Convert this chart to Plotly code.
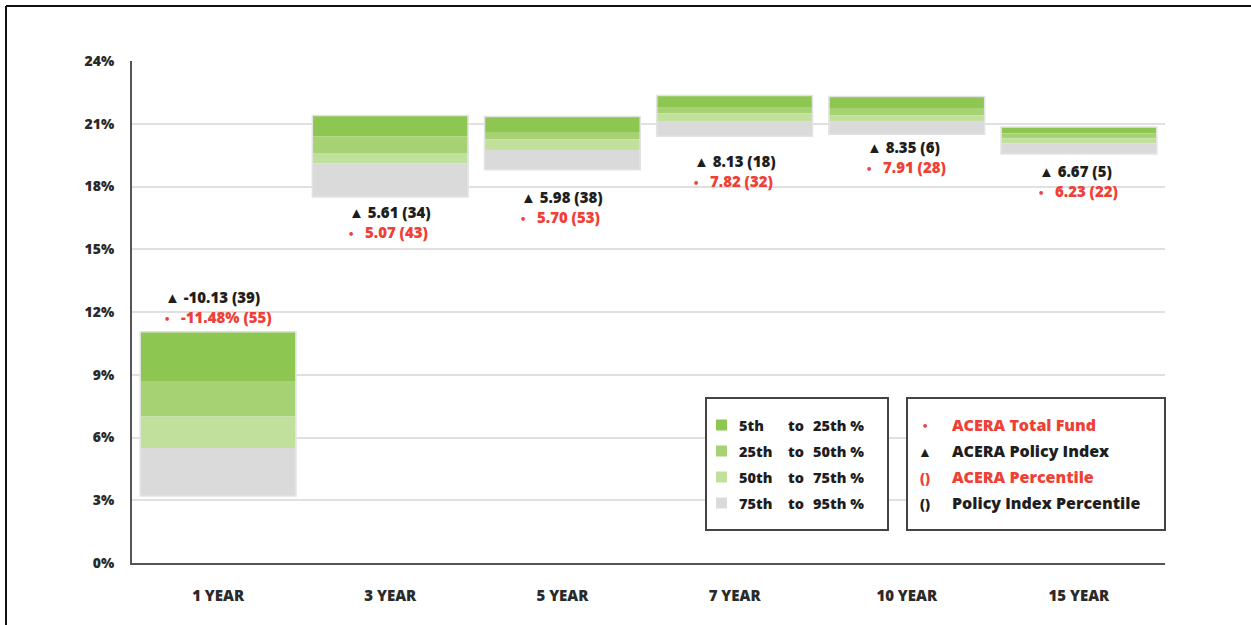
import plotly.graph_objects as go

# Peer-universe return ranges (percent) by trailing period
periods = ["1 YEAR", "3 YEAR", "5 YEAR", "7 YEAR", "10 YEAR", "15 YEAR"]
p05 = [11.05, 21.40, 21.35, 22.35, 22.30, 20.85]
p25 = [8.70, 20.40, 20.60, 21.80, 21.75, 20.55]
p50 = [7.00, 19.60, 20.25, 21.50, 21.40, 20.30]
p75 = [5.50, 19.10, 19.75, 21.10, 21.10, 20.05]
p95 = [3.20, 17.50, 18.80, 20.40, 20.50, 19.55]

# Policy index and total fund returns with their percentile ranks
policy_ret = ["-10.13", "5.61", "5.98", "8.13", "8.35", "6.67"]
policy_rank = [39, 34, 38, 18, 6, 5]
fund_ret = ["-11.48%", "5.07", "5.70", "7.82", "7.91", "6.23"]
fund_rank = [55, 43, 53, 32, 28, 22]

# Vertical centre of each period's label block (axis units)
label_y = [12.24, 16.32, 17.04, 18.76, 19.43, 18.26]

band_colors = ["#8dc650", "#a6d273", "#c0e09c", "#dadada"]

RED = "#ef4036"
DARK = "#1e1e1e"
FONT = "Open Sans"
WT = 800

W, H = 1251, 625
ML, MR, MT, MB = 132, 86, 61, 62
PW, PH = W - ML - MR, H - MT - MB


def px(x):
    return (x - ML) / PW


def py(y):
    return (H - MB - y) / PH


fig = go.Figure()

uppers = [p05, p25, p50, p75]
lowers = [p25, p50, p75, p95]
for col, hi, lo in zip(band_colors, uppers, lowers):
    fig.add_trace(go.Bar(
        x=periods, y=[h - l for h, l in zip(hi, lo)], base=lo,
        marker=dict(color=col, line=dict(width=0)),
        width=0.9, showlegend=False,
    ))

# faint outline around each full range bar
fig.add_trace(go.Bar(
    x=periods, y=[h - l for h, l in zip(p05, p95)], base=p95,
    marker=dict(color="rgba(0,0,0,0)", line=dict(color="#e3e3e3", width=1.5)),
    width=0.905, showlegend=False,
))

DOT = "<span style='font-size:11px'>•</span>"

for i, per in enumerate(periods):
    txt = (f"<span style='color:{DARK}'>▲ {policy_ret[i]} ({policy_rank[i]})</span><br>"
           f"<span style='color:{RED}'>{DOT}   {fund_ret[i]} ({fund_rank[i]})</span>")
    fig.add_annotation(x=per, y=label_y[i], text=txt, showarrow=False,
                       xanchor="center", yanchor="middle", align="left",
                       font=dict(family=FONT, size=15, weight=WT))

shapes = []
# frame lines along the top and left of the figure
shapes.append(dict(type="line", xref="paper", yref="paper",
                   x0=px(6), x1=px(W), y0=py(6), y1=py(6),
                   line=dict(color="#111111", width=2)))
shapes.append(dict(type="line", xref="paper", yref="paper",
                   x0=px(6), x1=px(6), y0=py(6), y1=py(H),
                   line=dict(color="#111111", width=2)))

# legend boxes
for x0, x1 in [(706, 888), (907, 1165)]:
    shapes.append(dict(type="rect", xref="paper", yref="paper",
                       x0=px(x0), x1=px(x1), y0=py(530), y1=py(398),
                       fillcolor="white", line=dict(color="#444444", width=2)))

rows = [425, 451, 477, 503]
cols = [("5th", "to", "25th %"), ("25th", "to", "50th %"), ("50th", "to", "75th %"), ("75th", "to", "95th %")]
for r, col, parts in zip(rows, band_colors, cols):
    shapes.append(dict(type="rect", xref="paper", yref="paper",
                       x0=px(716), x1=px(727), y0=py(r + 5.5), y1=py(r - 5.5),
                       fillcolor=col, line=dict(width=0)))
    for xx, t in zip([737, 786, 811], parts):
        fig.add_annotation(xref="paper", yref="paper", x=px(xx), y=py(r), text=t,
                           showarrow=False, xanchor="left", yanchor="middle",
                           font=dict(family=FONT, size=14.5, weight=WT, color=DARK))

key_items = [(DOT, "ACERA Total Fund", RED), ("▲", "ACERA Policy Index", DARK),
             ("()", "ACERA Percentile", RED), ("()", "Policy Index Percentile", DARK)]
for r, (sym, label, c) in zip(rows, key_items):
    fig.add_annotation(xref="paper", yref="paper", x=px(925), y=py(r), text=sym,
                       showarrow=False, xanchor="center", yanchor="middle",
                       font=dict(family=FONT, size=14, weight=WT, color=c))
    fig.add_annotation(xref="paper", yref="paper", x=px(950), y=py(r), text=label,
                       showarrow=False, xanchor="left", yanchor="middle",
                       font=dict(family=FONT, size=16, weight=WT, color=c))

fig.update_layout(
    width=W, height=H, barmode="overlay",
    margin=dict(l=ML, r=MR, t=MT, b=MB),
    paper_bgcolor="white", plot_bgcolor="white",
    shapes=shapes,
    font=dict(family=FONT, color="#333333"),
)
fig.update_xaxes(
    showgrid=False, showline=True, linecolor="#555555", linewidth=2,
    tickfont=dict(family=FONT, size=15, weight=WT, color="#2a2a2a"),
    ticklabelstandoff=18, ticks="",
)
fig.update_yaxes(
    range=[0, 24], dtick=3, ticksuffix="%",
    showgrid=True, gridcolor="#e0e0e0", gridwidth=2,
    showline=True, linecolor="#555555", linewidth=2, zeroline=False,
    tickfont=dict(family=FONT, size=14, weight=WT, color="#2a2a2a"),
    ticklabelstandoff=13, ticks="",
)

fig.write_html("out.html")
